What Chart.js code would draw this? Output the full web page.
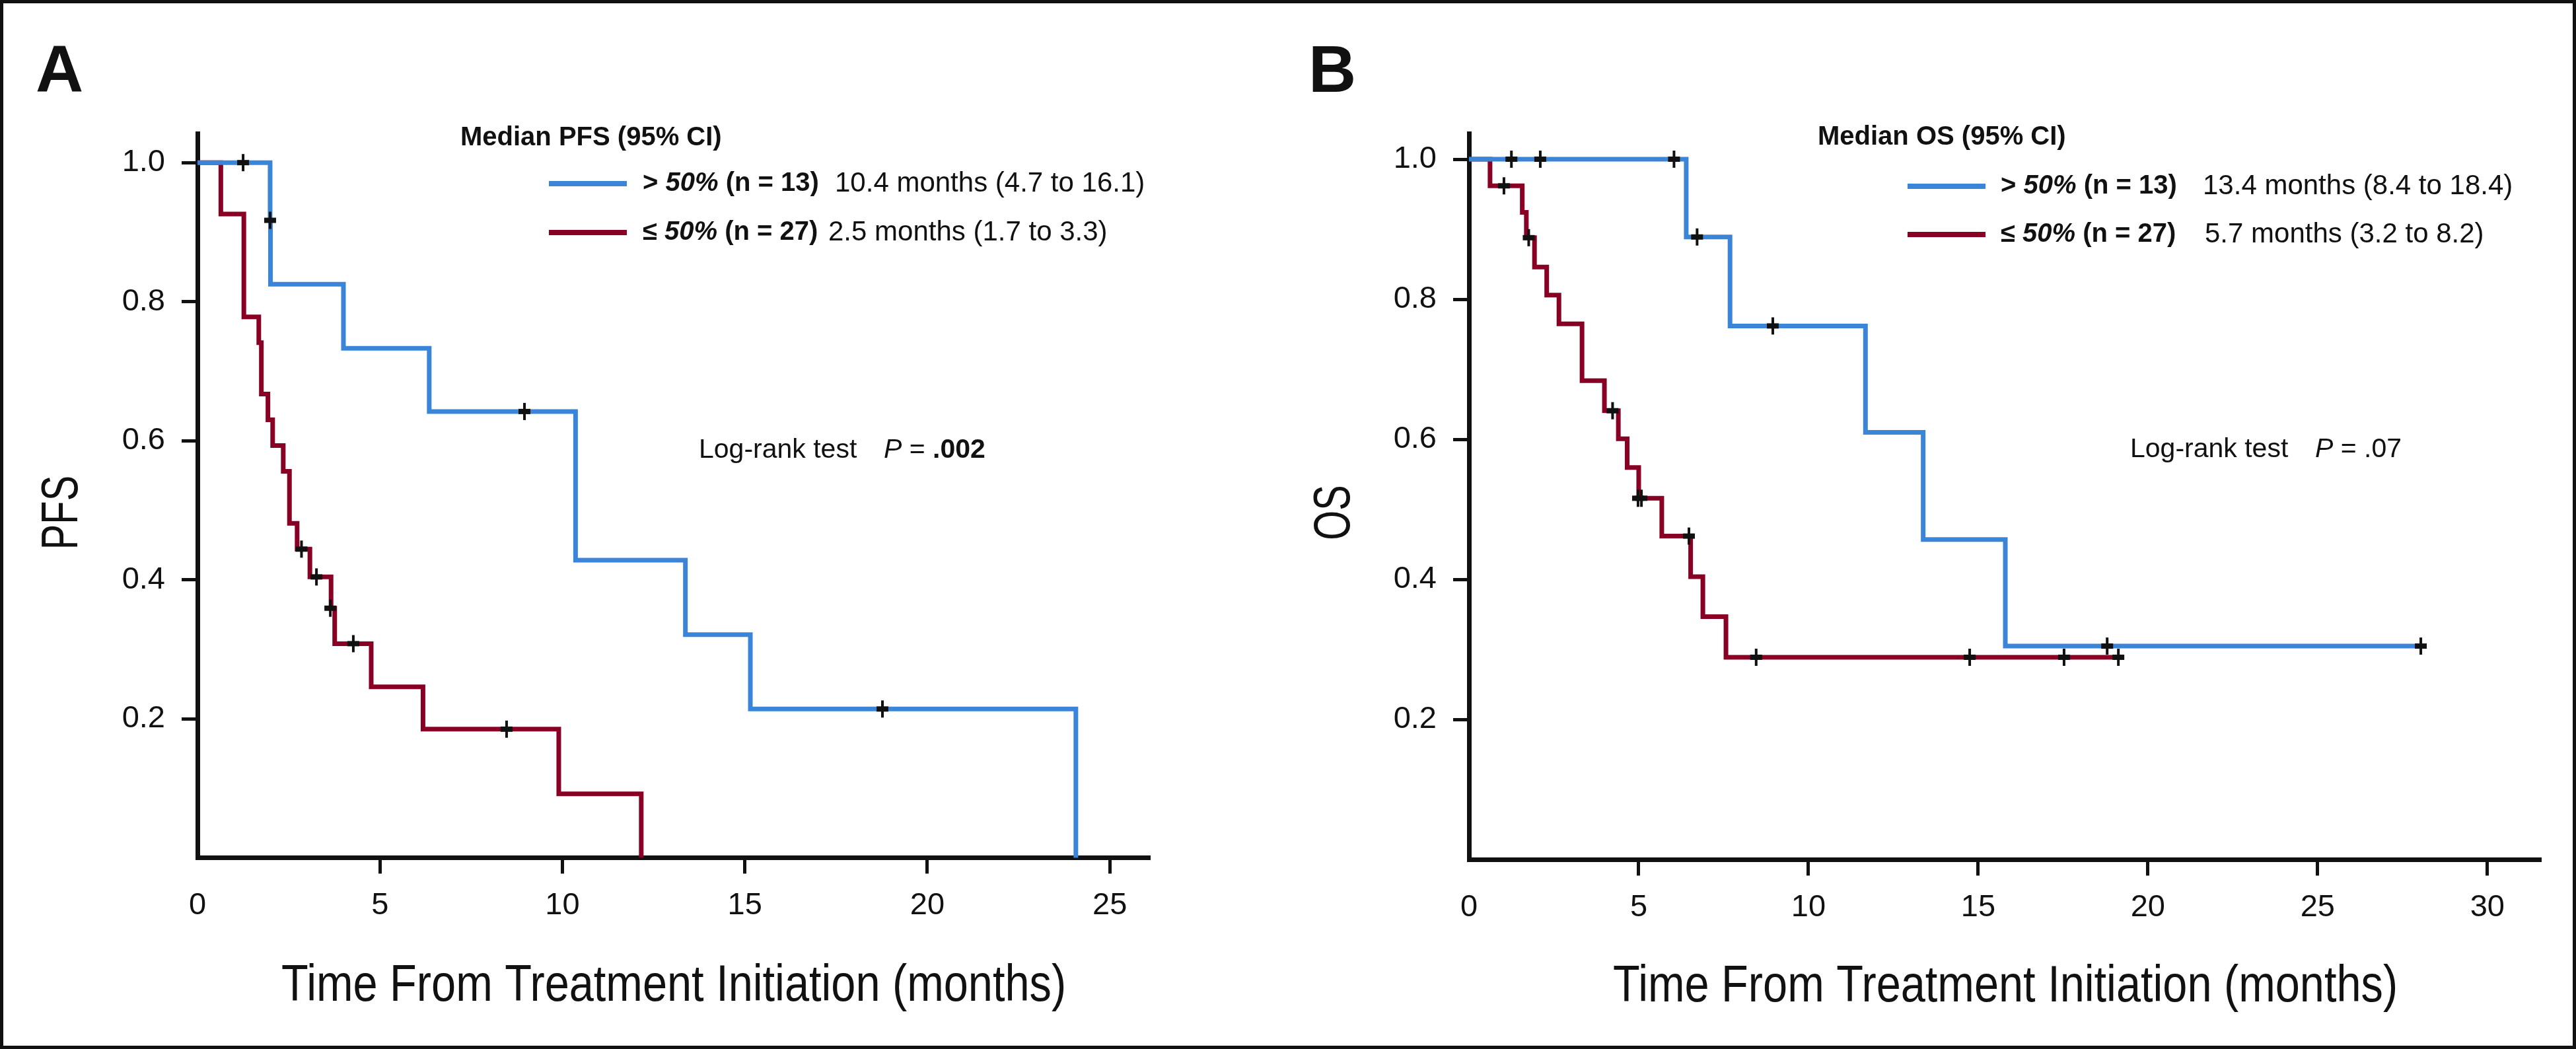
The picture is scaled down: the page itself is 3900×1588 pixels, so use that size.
<!DOCTYPE html>
<html><head><meta charset="utf-8">
<script src="https://cdn.jsdelivr.net/npm/chart.js@4.4.1/dist/chart.umd.min.js"></script>
<style>
html,body{margin:0;padding:0;background:#fff;}
#wrap{position:relative;width:3900px;height:1588px;overflow:hidden;background:#fff;}
#frame{position:absolute;left:0;top:0;width:3900px;height:1588px;box-sizing:border-box;border:5px solid #111;pointer-events:none;z-index:2;}
canvas{position:absolute;top:0;}
#ca{left:0;}
#cb{left:1950px;}
</style></head><body>
<div id="wrap">
<canvas id="ca" width="1950" height="1588"></canvas>
<canvas id="cb" width="1950" height="1588"></canvas>
<div id="frame"></div>
</div>
<script>
// ---------- DATA ----------
// Panel A: progression-free survival
const pfsHighTime = [0, 1.99, 2.00, 4.00, 6.35, 10.36, 13.37, 15.15, 24.07];
const pfsHighSurv = [1.0, 0.917, 0.825, 0.733, 0.642, 0.428, 0.321, 0.214, 0.0];
const pfsHighCensTime = [1.25, 1.99, 8.96, 18.77];
const pfsHighCensSurv = [1.0, 0.917, 0.642, 0.214];
const pfsLowTime = [0, 0.64, 1.27, 1.68, 1.75, 1.93, 2.06, 2.35, 2.52, 2.73, 3.08, 3.66, 3.76, 4.76, 6.18, 9.90, 12.16];
const pfsLowSurv = [1.0, 0.926, 0.778, 0.741, 0.667, 0.630, 0.593, 0.556, 0.481, 0.444, 0.404, 0.359, 0.308, 0.246, 0.185, 0.092, 0.0];
const pfsLowCensTime = [2.85, 3.26, 3.64, 4.27, 8.47];
const pfsLowCensSurv = [0.444, 0.404, 0.359, 0.308, 0.185];
// Panel B: overall survival
const osHighTime = [0, 6.40, 7.69, 11.68, 13.38, 15.80, 28.04];
const osHighSurv = [1.0, 0.889, 0.762, 0.610, 0.457, 0.305, 0.305];
const osHighCensTime = [1.25, 2.10, 6.04, 6.72, 8.95, 18.80, 28.04];
const osHighCensSurv = [1.0, 1.0, 1.0, 0.889, 0.762, 0.305, 0.305];
const osLowTime = [0, 0.62, 1.57, 1.69, 1.93, 2.29, 2.65, 3.33, 3.99, 4.40, 4.66, 5.00, 5.68, 6.53, 6.89, 7.57, 19.10];
const osLowSurv = [1.0, 0.962, 0.924, 0.888, 0.846, 0.806, 0.765, 0.684, 0.641, 0.601, 0.560, 0.516, 0.462, 0.404, 0.347, 0.289, 0.289];
const osLowCensTime = [1.03, 1.76, 4.23, 4.98, 5.08, 6.48, 8.46, 14.75, 17.53, 19.13];
const osLowCensSurv = [0.962, 0.888, 0.641, 0.516, 0.516, 0.462, 0.289, 0.289, 0.289, 0.289];
// Ticks
const pfsXTicks = [0, 5, 10, 15, 20, 25];
const osXTicks = [0, 5, 10, 15, 20, 25, 30];
const survTicks = [0.2, 0.4, 0.6, 0.8, 1.0];
const survTickLabels = ['0.2', '0.4', '0.6', '0.8', '1.0'];

// ---------- STYLE ----------
const FAM = '"Liberation Sans", Arial, Helvetica, sans-serif';
const BLUE = '#3A85D7', RED = '#880024', INK = '#111111';

const pts = (t, s) => t.map((v, i) => ({x: v, y: s[i]}));

function curve(t, s, color, order) {
  return {type: 'line', data: pts(t, s), borderColor: color, backgroundColor: color,
    borderWidth: 7, stepped: 'before', pointRadius: 0, pointHoverRadius: 0, fill: false,
    tension: 0, clip: false, order: order, borderCapStyle: 'butt', borderJoinStyle: 'miter'};
}
function censH(t, s) {
  return {type: 'scatter', data: pts(t, s), showLine: false, pointStyle: 'line', pointRadius: 9,
    pointBorderWidth: 8, borderColor: INK, backgroundColor: INK, pointBorderColor: INK, clip: false, order: 0};
}
function censV(t, s) {
  return {type: 'scatter', data: pts(t, s), showLine: false, pointStyle: 'line', pointRotation: 90, pointRadius: 13,
    pointBorderWidth: 4, borderColor: INK, backgroundColor: INK, pointBorderColor: INK, clip: false, order: 0};
}

const annot = {
  id: 'annot',
  afterDraw(chart, args, opts) {
    const ctx = chart.ctx;
    ctx.save();
    ctx.fillStyle = INK;
    for (const it of opts.items) {
      if (it.kind === 'rect') {
        ctx.fillStyle = it.color; ctx.fillRect(it.x, it.y, it.w, it.h); ctx.fillStyle = INK;
      } else if (it.kind === 'runs') {
        let x = it.x;
        ctx.textBaseline = it.base || 'alphabetic';
        ctx.textAlign = 'left';
        for (const r of it.runs) {
          if (r.x !== undefined) x = r.x;
          ctx.font = r.f + ' ' + FAM;
          ctx.fillText(r.t, x, it.y);
          x += ctx.measureText(r.t).width;
        }
      } else if (it.kind === 'title') {
        ctx.save();
        ctx.translate(it.x, it.y);
        if (it.rot) ctx.rotate(it.rot);
        ctx.scale(it.sx || 1, 1);
        ctx.font = it.f + ' ' + FAM;
        ctx.textAlign = it.align || 'center';
        ctx.textBaseline = 'alphabetic';
        ctx.fillText(it.t, 0, 0);
        ctx.restore();
      }
    }
    ctx.restore();
  }
};

function axisOpts(kind, max, ticks, labels, fitSize) {
  const o = {
    type: 'linear', min: 0, max: max,
    afterBuildTicks: s => { s.ticks = ticks.map(v => ({value: v})); },
    grid: {display: true, drawOnChartArea: false, drawTicks: true, tickLength: 24, tickWidth: 5,
      tickColor: c => (c.tick && c.tick.value === 0) ? 'rgba(0,0,0,0)' : INK},
    border: {display: true, color: INK, width: 7},
    ticks: {font: {family: FAM, size: 47}, color: INK, autoSkip: false, maxRotation: 0, minRotation: 0,
      callback: (v, i) => labels[i]}
  };
  if (kind === 'x') { o.afterFit = s => { s.height = fitSize; }; o.ticks.padding = 20; }
  else { o.afterFit = s => { s.width = fitSize; }; o.ticks.padding = 25; }
  return o;
}

function makeChart(id, cfg) {
  return new Chart(document.getElementById(id), {
    type: 'scatter',
    data: {datasets: cfg.datasets},
    options: {
      responsive: false, animation: false, events: [],
      layout: {padding: {left: 0, top: cfg.top, right: cfg.right, bottom: 0}},
      scales: {
        x: axisOpts('x', cfg.xMax, cfg.xTicks, cfg.xTicks.map(String), cfg.xH),
        y: axisOpts('y', cfg.yMax, survTicks, survTickLabels, cfg.yW)
      },
      plugins: {legend: {display: false}, tooltip: {enabled: false}, annot: {items: cfg.items}}
    },
    plugins: [annot]
  });
}

// Panel A
makeChart('ca', {
  xMax: 26.1, yMax: 1.042, xTicks: pfsXTicks, yW: 299, xH: 289.5, top: 202, right: 209,
  datasets: [
    censV(pfsHighCensTime, pfsHighCensSurv), censH(pfsHighCensTime, pfsHighCensSurv),
    censV(pfsLowCensTime, pfsLowCensSurv), censH(pfsLowCensTime, pfsLowCensSurv),
    curve(pfsHighTime, pfsHighSurv, BLUE, 1),
    curve(pfsLowTime, pfsLowSurv, RED, 2)
  ],
  items: [
    {kind: 'runs', x: 54, y: 139, runs: [{t: 'A', f: 'bold 100px'}]},
    {kind: 'runs', x: 697, y: 220, runs: [{t: 'Median PFS (95% CI)', f: 'bold 40px'}]},
    {kind: 'rect', x: 831, y: 274, w: 118, h: 8, color: BLUE},
    {kind: 'rect', x: 831, y: 348, w: 118, h: 8, color: RED},
    {kind: 'runs', x: 973, y: 278, base: 'middle', runs: [
      {t: '> ', f: 'bold 40px'}, {t: '50%', f: 'italic bold 40px'}, {t: ' (n = 13)', f: 'bold 40px'},
      {t: '10.4 months (4.7 to 16.1)', f: '42px', x: 1264}]},
    {kind: 'runs', x: 973, y: 352, base: 'middle', runs: [
      {t: '\u2264 ', f: 'bold 40px'}, {t: '50%', f: 'italic bold 40px'}, {t: ' (n = 27)', f: 'bold 40px'},
      {t: '2.5 months (1.7 to 3.3)', f: '42px', x: 1254}]},
    {kind: 'runs', x: 1058, y: 693, runs: [
      {t: 'Log-rank test', f: '41px'}, {t: 'P', f: 'italic 41px', x: 1338}, {t: ' = ', f: '41px'}, {t: '.002', f: 'bold 41px'}]},
    {kind: 'title', x: 117, y: 776, rot: -Math.PI / 2, sx: 0.75, f: '77px', t: 'PFS'},
    {kind: 'title', x: 1020, y: 1515, sx: 0.866, f: '77px', t: 'Time From Treatment Initiation (months)'}
  ]
});

// Panel B (canvas offset 1950)
makeChart('cb', {
  xMax: 31.58, yMax: 1.0368, xTicks: osXTicks, yW: 274, xH: 286.5, top: 202, right: 53,
  datasets: [
    censV(osHighCensTime, osHighCensSurv), censH(osHighCensTime, osHighCensSurv),
    censV(osLowCensTime, osLowCensSurv), censH(osLowCensTime, osLowCensSurv),
    curve(osHighTime, osHighSurv, BLUE, 1),
    curve(osLowTime, osLowSurv, RED, 2)
  ],
  items: [
    {kind: 'runs', x: 31, y: 139, runs: [{t: 'B', f: 'bold 100px'}]},
    {kind: 'runs', x: 802, y: 219, runs: [{t: 'Median OS (95% CI)', f: 'bold 40px'}]},
    {kind: 'rect', x: 938, y: 278, w: 118, h: 8, color: BLUE},
    {kind: 'rect', x: 938, y: 351, w: 118, h: 8, color: RED},
    {kind: 'runs', x: 1079, y: 282, base: 'middle', runs: [
      {t: '> ', f: 'bold 40px'}, {t: '50%', f: 'italic bold 40px'}, {t: ' (n = 13)', f: 'bold 40px'},
      {t: '13.4 months (8.4 to 18.4)', f: '42px', x: 1385}]},
    {kind: 'runs', x: 1079, y: 355, base: 'middle', runs: [
      {t: '\u2264 ', f: 'bold 40px'}, {t: '50%', f: 'italic bold 40px'}, {t: ' (n = 27)', f: 'bold 40px'},
      {t: '5.7 months (3.2 to 8.2)', f: '42px', x: 1388}]},
    {kind: 'runs', x: 1275, y: 692, runs: [
      {t: 'Log-rank test', f: '41px'}, {t: 'P', f: 'italic 41px', x: 1555}, {t: ' = .07', f: '41px'}]},
    {kind: 'title', x: 93, y: 776, rot: -Math.PI / 2, sx: 0.75, f: '77px', t: 'OS'},
    {kind: 'title', x: 1086, y: 1516, sx: 0.866, f: '77px', t: 'Time From Treatment Initiation (months)'}
  ]
});
</script>
</body></html>
